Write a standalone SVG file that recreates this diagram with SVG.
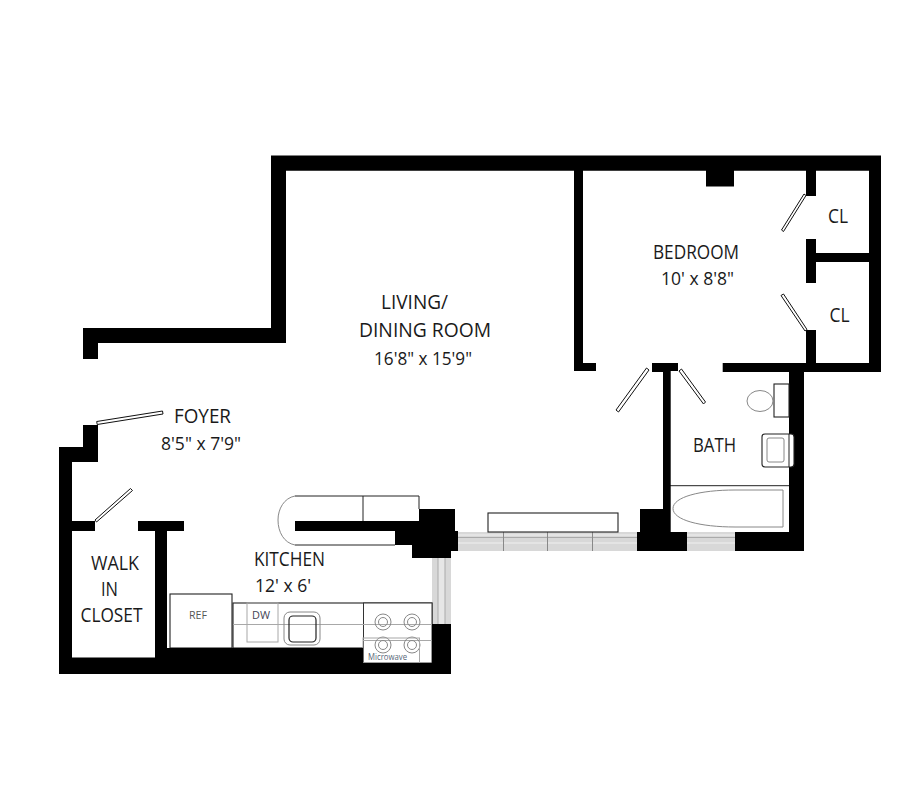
<svg xmlns="http://www.w3.org/2000/svg" width="923" height="799" viewBox="0 0 923 799">
<style>
.t{font-family:"Open Sans","Noto Sans",sans-serif;fill:#1a1a1a;font-size:20px;font-weight:400}
.s{font-size:18.500px}
.o{fill:#fff;stroke:#222;stroke-width:1.100}
.g{fill:none;stroke:#a8a8a8;stroke-width:1}
.l{fill:none;stroke:#222;stroke-width:1}
.b{fill:none;stroke:#888;stroke-width:1}
.d{fill:#fff;stroke:#111;stroke-width:1}
.w{fill:#d8d8d8;stroke:none}
.m{fill:none;stroke:#aaa;stroke-width:1}
.n{fill:none;stroke:#e8e8e8;stroke-width:1.500}
</style>
<rect width="923" height="799" fill="#fff"/>
<g id="windows">
<rect class="w" x="458" y="532" width="179" height="19"/>
<rect class="w" x="687" y="532" width="48" height="19"/>
<rect class="w" x="432" y="558" width="19" height="66"/>
<rect x="438" y="558" width="7" height="66" fill="#e6e6e6"/>
<path class="n" d="M458 535H637M687 535H735M458 543H637M687 543H735"/>
<path class="m" d="M458 537.500H637M687 537.500H735M438 558V624M445 558V624"/>
<path d="M503.500 532V551M547.500 532V551M592.500 532V551" stroke="#888" fill="none"/>
</g>
<g id="fixtures">
<rect class="o" x="170" y="594" width="62" height="54"/>
<rect class="o" x="233" y="603" width="199" height="45"/>
<rect x="363.500" y="603" width="68.500" height="60" fill="#fff" stroke="#333"/>
<path class="g" d="M233 624.500H432M363 640.500H432"/>
<rect class="g" x="247" y="603" width="31" height="39"/>
<rect class="b" x="284" y="612" width="36" height="33" rx="6"/>
<rect x="289" y="616" width="27" height="26" rx="4" fill="none" stroke="#222" stroke-width="1.200"/>
<g class="b"><circle cx="383" cy="622" r="8"/><circle cx="383" cy="622" r="4.500"/><circle cx="412" cy="622" r="8"/><circle cx="412" cy="622" r="4.500"/><circle cx="383" cy="645" r="8"/><circle cx="383" cy="645" r="4.500"/><circle cx="412" cy="645" r="8"/><circle cx="412" cy="645" r="4.500"/></g>
<rect class="g" x="363" y="638" width="56.500" height="25"/>
<path class="l" d="M295 496H419M363 496V521M419 496V509M295 545H395"/>
<path class="b" d="M295 496C284 498 278 509 278 520C278 532 284 543 295 545"/>
<rect class="o" x="488" y="513" width="130" height="19"/>
<path class="l" d="M670 485.700H789" stroke="#444"/>
<path d="M783 490H735C700 490 673 497 673 508.500C673 520 700 527 735 527H783Z" fill="#fff" stroke="#888"/>
</g>
<g id="walls" fill="#000">
<path d="M271 155.500H881V372H804V551H735V532H687V551H637V532H640V509H663V372H652V363H678V371H670.700V532H789V372H722.700V363H806V330H816V363H869V262H816V283H806V239H816V253H869V170.700H816V196H806V170.700H734V186.500H706V170.700H583V363H596V371H574V170.700H286V343H98V359H83V328H271Z"/>
<path d="M83 425H98V462H72V521H95V531H72V657.500H155V531H138V521H184V531H167V648H363V663H432V624H451V674H59V447H83Z"/>
<path d="M295 521H419V509H455V531H458V551H451V558H412V545H395V531H295Z"/>
</g>
<g id="fixtures-over">
<rect class="o" x="774" y="384" width="15" height="33"/>
<ellipse class="b" cx="760" cy="401" rx="13" ry="10.500"/>
<rect class="o" x="762" y="434" width="32" height="33" rx="3"/>
<rect class="b" x="767" y="438" width="17" height="24" rx="2"/>
<path class="l" d="M789 434V467"/>
</g>
<g id="doors">
<polygon class="d" points="96.700,421.500 162.500,411 163,414 97.200,424.500"/>
<polygon class="d" points="95,520 130.500,488.500 132.500,490.500 96.500,522"/>
<polygon class="d" points="804,194 806,195.500 783.500,231.500 781.500,230"/>
<polygon class="d" points="783.500,294 807,329.500 805,331 781,295.500"/>
<polygon class="d" points="646.500,368 649,370 618.500,412 616,410"/>
<polygon class="d" points="681.500,369 705.500,402 703.500,404 679,371"/>
</g>
<g id="labels">
<text class="t" x="381" y="309" textLength="67" lengthAdjust="spacingAndGlyphs">LIVING/</text>
<text class="t" x="359" y="337" textLength="132" lengthAdjust="spacingAndGlyphs">DINING ROOM</text>
<text class="t s" x="374" y="365" textLength="98" lengthAdjust="spacingAndGlyphs">16'8" x 15'9"</text>
<text class="t" x="653" y="259" textLength="86" lengthAdjust="spacingAndGlyphs">BEDROOM</text>
<text class="t s" x="661" y="285" textLength="73" lengthAdjust="spacingAndGlyphs">10' x 8'8"</text>
<text class="t" x="828" y="223" textLength="20" lengthAdjust="spacingAndGlyphs">CL</text>
<text class="t" x="829.500" y="321.500" textLength="20" lengthAdjust="spacingAndGlyphs">CL</text>
<text class="t" x="174" y="422.500" textLength="57" lengthAdjust="spacingAndGlyphs">FOYER</text>
<text class="t s" x="161" y="450" textLength="80" lengthAdjust="spacingAndGlyphs">8'5" x 7'9"</text>
<text class="t" x="693" y="451.500" textLength="43" lengthAdjust="spacingAndGlyphs">BATH</text>
<text class="t" x="254" y="565.500" textLength="71" lengthAdjust="spacingAndGlyphs">KITCHEN</text>
<text class="t s" x="255" y="591.500" textLength="56" lengthAdjust="spacingAndGlyphs">12' x 6'</text>
<text class="t" x="91" y="570" textLength="48" lengthAdjust="spacingAndGlyphs">WALK</text>
<text class="t" x="101" y="595.500" textLength="17" lengthAdjust="spacingAndGlyphs">IN</text>
<text class="t" x="80.500" y="621.500" textLength="62" lengthAdjust="spacingAndGlyphs">CLOSET</text>
<text class="t" x="189" y="619" style="font-size:10.500px;fill:#555" textLength="18" lengthAdjust="spacingAndGlyphs">REF</text>
<text class="t" x="252" y="619" style="font-size:11.500px;fill:#445" textLength="18" lengthAdjust="spacingAndGlyphs">DW</text>
<text class="t" x="368" y="660" style="font-size:9px;fill:#567" textLength="39" lengthAdjust="spacingAndGlyphs">Microwave</text>
</g>
</svg>
